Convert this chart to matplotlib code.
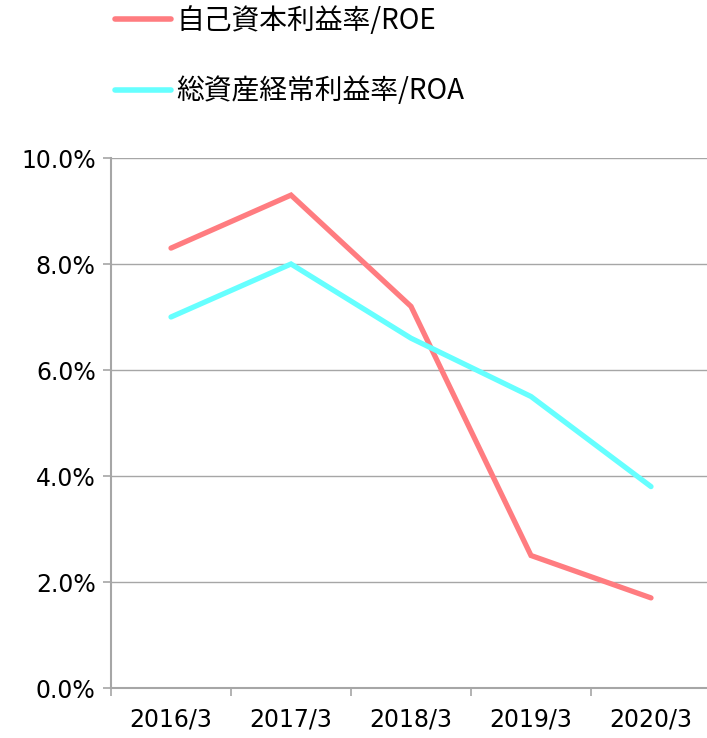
import matplotlib
matplotlib.use("Agg")
import matplotlib.pyplot as plt
import numpy as np
from matplotlib.ticker import FixedLocator, PercentFormatter

# data (%)
years = ["2016/3", "2017/3", "2018/3", "2019/3", "2020/3"]
roe = [8.3, 9.3, 7.2, 2.5, 1.7]
roa = [7.0, 8.0, 6.6, 5.5, 3.8]
roe_label = "自己資本利益率/ROE"
roa_label = "総資産経常利益率/ROA"

ROE_COLOR = "#FF7C80"
ROA_COLOR = "#66FFFF"
GRID_COLOR = "#A6A6A6"

tick_font = ["Liberation Sans Narrow", "DejaVu Sans"]
legend_font = ["Noto Sans CJK JP", "DejaVu Sans"]

fig = plt.figure(figsize=(7.07, 7.38), dpi=100)
ax = fig.add_axes([111 / 707, 50 / 738, 600 / 707, 530 / 738])

x = np.arange(len(years))
ax.plot(x, roe, color=ROE_COLOR, lw=3.8, solid_capstyle="round",
        solid_joinstyle="miter", label=roe_label, zorder=3)
ax.plot(x, roa, color=ROA_COLOR, lw=3.8, solid_capstyle="round",
        solid_joinstyle="miter", label=roa_label, zorder=3)

ax.set_ylim(0, 10)
ax.set_xlim(-0.5, len(years) - 0.5)

# y axis
ax.yaxis.set_major_locator(FixedLocator(np.arange(0, 10.1, 2)))
ax.yaxis.set_major_formatter(PercentFormatter(decimals=1))
ax.grid(axis="y", color=GRID_COLOR, lw=1.0)
ax.set_axisbelow(True)

# x axis: ticks between categories, labels at the centres
ax.xaxis.set_major_locator(FixedLocator(np.arange(-0.5, len(years), 1.0)))
ax.xaxis.set_minor_locator(FixedLocator(x))
ax.set_xticklabels([], minor=False)
ax.set_xticklabels(years, minor=True)
ax.tick_params(axis="x", which="minor", length=0, pad=14)
ax.tick_params(axis="both", which="major", length=6, width=1.2,
               color=GRID_COLOR, direction="out")
ax.tick_params(axis="y", pad=5)

for lbl in ax.get_yticklabels() + ax.get_xticklabels(minor=True):
    lbl.set_family(tick_font)
    lbl.set_fontsize(17)

for side in ("top", "right"):
    ax.spines[side].set_visible(False)
for side in ("left", "bottom"):
    ax.spines[side].set_color(GRID_COLOR)
    ax.spines[side].set_linewidth(1.5)

leg = fig.legend(loc="upper left", bbox_to_anchor=(115 / 707, 1 - 6 / 738),
                 frameon=False, prop={"family": legend_font, "size": 20},
                 handlelength=2.0, handletextpad=0.2, labelspacing=1.45,
                 borderpad=0, borderaxespad=0)
for line in leg.get_lines():
    line.set_linewidth(4.0)
    line.set_solid_capstyle("round")

fig.savefig("out.png", dpi=100)
